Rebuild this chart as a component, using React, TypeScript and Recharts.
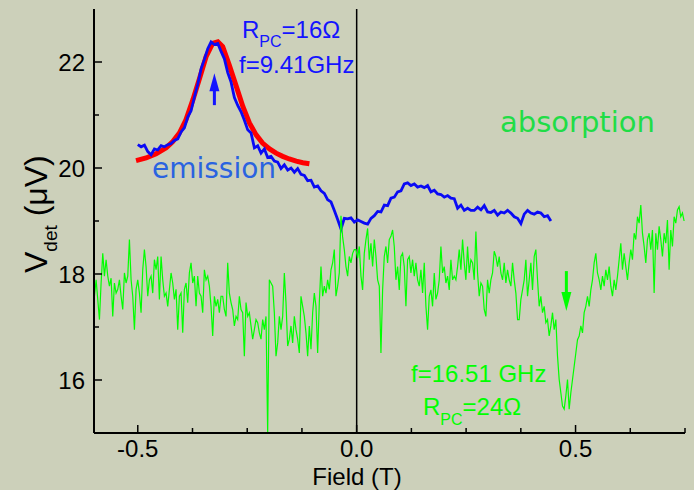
import { LineChart, Line, XAxis, YAxis, ReferenceLine, ReferenceDot } from "recharts";

const BG = "#ccd0ba";
const AXIS_FONT = "'Liberation Sans', Arial, Helvetica, sans-serif";
const HAND_FONT = "'Comic Sans MS', 'DejaVu Sans', sans-serif";

// field axis ticks (T) and detector voltage ticks (µV)
const FIELD_TICKS = [-0.5, -0.375, -0.25, -0.125, 0, 0.125, 0.25, 0.375, 0.5, 0.625, 0.75];
const VDET_TICKS = [16, 17, 18, 19, 20, 21, 22];

// 16.51 GHz trace (green), evenly spaced field sweep
const GREEN_START = -0.599;
const GREEN_STEP = 0.003805;
const GREEN_VDET = [
  17.58, 17.89, 17.52, 17.14, 17.83, 18.39, 17.96, 18.27, 17.96, 17.77,
  17.92, 17.2, 17.83, 17.64, 17.71, 17.89, 17.58, 17.33, 18.02, 17.83,
  17.96, 18.65, 17.89, 17.58, 16.95, 17.71, 17.89, 17.64, 17.27, 18.08,
  18.46, 18.14, 17.58, 17.89, 17.96, 17.64, 18.27, 18.08, 18.33, 17.52,
  18.33, 17.89, 17.58, 17.64, 17.39, 17.71, 18.02, 17.83, 17.52, 17.71,
  16.95, 17.58, 17.64, 16.89, 17.71, 17.83, 17.46, 18.02, 18.21, 17.83,
  17.96, 17.39, 17.96, 17.64, 17.58, 17.27, 18.08, 17.89, 17.96, 17.77,
  17.39, 16.83, 17.58, 17.39, 17.52, 17.27, 17.58, 17.58, 17.33, 17.2,
  18.21, 17.64, 17.46, 17.33, 17.02, 17.2, 17.14, 17.58, 17.33, 17.27,
  16.45, 17.46, 17.2, 17.27, 17.02, 16.77, 16.95, 17.14, 17.08, 16.89,
  16.77, 17.14, 16.95, 17.2, 15.0, 17.89, 17.83, 17.77, 17.27, 16.45,
  16.7, 17.2, 16.95, 17.2, 18.02, 17.46, 16.64, 16.77, 17.02, 16.7,
  17.2, 16.95, 16.77, 16.51, 17.58, 17.39, 17.2, 16.89, 16.45, 17.02,
  16.58, 17.27, 17.64, 17.39, 16.51, 17.46, 18.14, 17.58, 17.77, 17.64,
  17.89, 17.71, 18.08, 18.21, 18.46, 17.58, 17.77, 18.02, 19.1, 18.7,
  18.46, 18.14, 17.96, 18.33, 18.21, 18.39, 18.46, 18.46, 18.3,
  18.52, 17.96, 17.7, 18.39, 18.65, 18.86, 18.27, 18.58, 18.14, 18.65,
  18.33, 17.89, 17.77, 16.51, 17.7, 18.33, 18.52, 18.21, 18.65, 18.71,
  18.83, 18.52, 17.89, 18.14, 17.7, 18.33, 18.39, 18.14, 17.39, 18.27,
  18.33, 18.02, 18.27, 17.96, 18.21, 17.89, 17.77, 18.08, 17.64, 18.21,
  17.39, 16.95, 17.58, 17.7, 17.39, 18.02, 17.52, 17.64, 17.89, 18.52,
  18.02, 18.14, 17.83, 17.96, 17.7, 18.27, 17.89, 17.96, 17.89, 18.14,
  18.46, 18.08, 18.65, 18.21, 17.89, 18.52, 18.02, 18.27, 18.21, 17.89,
  18.8, 18.02, 17.58, 17.83, 17.77, 17.33, 17.2, 17.89, 17.64, 17.89,
  18.02, 18.43, 18.33, 18.14, 18.33, 18.02, 17.89, 18.21, 17.83, 18.08,
  17.89, 17.77, 18.21, 17.89, 17.64, 17.14, 17.14, 17.52, 17.7, 17.89,
  18.27, 17.58,
  17.89, 18.21, 17.7, 18.33, 18.46, 17.89, 17.39, 17.58, 17.27, 17.39,
  17.08, 17.14, 16.83, 17.02, 17.27, 16.95, 17.14, 16.45, 16.01, 15.76,
  15.51, 15.45, 15.7, 16.01, 15.45, 15.76, 16.01, 16.26, 16.51, 16.76,
  16.83, 17.02, 16.89, 17.27, 17.39, 17.58, 17.39, 17.7, 17.89, 18.21,
  18.39, 18.02, 17.89, 17.7, 17.96, 17.77, 18.08, 17.89, 18.14, 17.77,
  17.58, 17.89, 17.7, 17.96, 18.27, 18.58, 18.08, 18.39, 18.14, 17.89,
  18.21, 18.46, 18.27, 18.77, 18.65, 19.08, 18.96, 19.3, 18.77, 18.52,
  18.21, 18.65, 18.77, 18.46, 18.83, 17.64, 18.77, 18.46, 18.9, 18.65,
  18.33, 18.77, 18.58, 19.02, 18.08, 18.83, 18.52, 19.08, 18.96, 19.21,
  19.27, 19.08, 19.15, 19.0,
];

// 9.41 GHz trace (blue)
const BLUE_START = -0.5;
const BLUE_STEP = 0.00761;
const BLUE_VDET = [
  20.44, 20.4, 20.43, 20.31, 20.25, 20.36, 20.34, 20.42, 20.4, 20.44,
  20.46, 20.52, 20.55, 20.68, 20.76, 20.96, 21.08, 21.34, 21.58, 21.87,
  22.05, 22.25, 22.38, 22.33, 22.35, 22.2, 22.06, 21.8, 21.62, 21.33,
  21.18, 21.06, 20.9, 20.72, 20.66, 20.38, 20.42, 20.28, 20.36, 20.2,
  20.22, 20.13, 20.11, 19.99, 20.06, 19.96, 20.0, 19.92, 19.99, 19.88,
  19.86, 19.76, 19.77, 19.64, 19.66, 19.57, 19.52, 19.4, 19.36, 19.2,
  19.03, 18.85, 19.05, 19.04, 19.06, 18.98, 19.02,
  18.99, 18.96, 18.94, 19.05, 19.1, 19.18, 19.17, 19.3, 19.29, 19.43,
  19.45, 19.55, 19.57, 19.7, 19.72, 19.67, 19.7, 19.64, 19.66, 19.63,
  19.67, 19.55, 19.58, 19.51, 19.5, 19.45, 19.48, 19.43, 19.42, 19.24,
  19.3, 19.2, 19.24, 19.2, 19.2, 19.26, 19.21, 19.29, 19.17, 19.16,
  19.2, 19.11, 19.17, 19.15, 19.2, 19.15, 19.08, 19.05, 18.95, 19.13,
  19.2, 19.15, 19.13, 19.17, 19.15, 19.08, 19.1, 19.0,
];

// Lorentzian fit to the emission peak (red)
const FIT_FIELD = [
  -0.504, -0.481, -0.458, -0.435, -0.42, -0.405, -0.39, -0.374, -0.359, -0.344,
  -0.329, -0.317, -0.306, -0.291, -0.275, -0.26, -0.245, -0.23, -0.215, -0.199,
  -0.184, -0.169, -0.154, -0.138, -0.123, -0.108,
];
const FIT_VDET = [
  20.14, 20.19, 20.27, 20.38, 20.5, 20.66, 20.91, 21.29, 21.69, 22.1,
  22.35, 22.38, 22.29, 21.94, 21.54, 21.16, 20.85, 20.63, 20.47, 20.36,
  20.28, 20.22, 20.17, 20.13, 20.1, 20.08,
];

const greenData = GREEN_VDET.map((v, i) => ({ x: GREEN_START + i * GREEN_STEP, v }));
const blueData = BLUE_VDET.map((v, i) => ({ x: BLUE_START + i * BLUE_STEP, v }));
const fitData = FIT_FIELD.map((x, i) => ({ x, v: FIT_VDET[i] }));

const isMajorField = (v: number) => Math.abs(v * 2 - Math.round(v * 2)) < 1e-6;
const isMajorVdet = (v: number) => v % 2 === 0;

function BottomTick({ x, y, payload }: any) {
  const major = isMajorField(payload.value);
  return (
    <g>
      <line x1={x} y1={y} x2={x} y2={y - (major ? 8 : 5)} stroke="#000" strokeWidth={1.5} />
      {major && (
        <text x={x} y={y + 24} textAnchor="middle" fontSize={24} fontFamily={AXIS_FONT} fill="#000">
          {payload.value.toFixed(1)}
        </text>
      )}
    </g>
  );
}

function TopTick({ x, y, payload }: any) {
  const major = isMajorField(payload.value);
  return <line x1={x} y1={y} x2={x} y2={y + (major ? 8 : 5)} stroke="#000" strokeWidth={1.5} />;
}

function LeftTick({ x, y, payload }: any) {
  const major = isMajorVdet(payload.value);
  return (
    <g>
      <line x1={x} y1={y} x2={x + (major ? 8 : 5)} y2={y} stroke="#000" strokeWidth={1.5} />
      {major && (
        <text x={x - 9} y={y + 8.5} textAnchor="end" fontSize={24} fontFamily={AXIS_FONT} fill="#000">
          {payload.value}
        </text>
      )}
    </g>
  );
}

function RightTick({ x, y, payload }: any) {
  const major = isMajorVdet(payload.value);
  return <line x1={x} y1={y} x2={x - (major ? 8 : 5)} y2={y} stroke="#000" strokeWidth={1.5} />;
}

// arrow marking the resonance, tip at (cx, cy)
function UpArrow({ cx, cy }: any) {
  return (
    <g fill="#1414ff">
      <polygon points={`${cx},${cy} ${cx - 5},${cy + 18} ${cx + 5},${cy + 18}`} />
      <rect x={cx - 1.5} y={cy + 14} width={3} height={18} />
    </g>
  );
}

function DownArrow({ cx, cy }: any) {
  return (
    <g fill="#00ff00">
      <polygon points={`${cx},${cy} ${cx - 5},${cy - 19} ${cx + 5},${cy - 19}`} />
      <rect x={cx - 1.5} y={cy - 40} width={3} height={25} />
    </g>
  );
}

export default function App() {
  return (
    <div style={{ position: "absolute", left: 0, top: 0, width: 694, height: 490, background: BG }}>
      <LineChart width={694} height={490} data={greenData} margin={{ top: 9, right: 9, bottom: 0, left: 0 }}>
        <XAxis
          dataKey="x"
          type="number"
          domain={[-0.6, 0.75]}
          allowDataOverflow
          ticks={FIELD_TICKS}
          interval={0}
          height={57}
          tickSize={0}
          tickMargin={0}
          axisLine={{ stroke: "#000", strokeWidth: 2 }}
          tickLine={false}
          tick={(p: any) => <BottomTick {...p} />}
        />
        <XAxis
          xAxisId="top"
          orientation="top"
          type="number"
          domain={[-0.6, 0.75]}
          allowDataOverflow
          ticks={FIELD_TICKS}
          interval={0}
          height={0}
          tickSize={0}
          tickMargin={0}
          axisLine={{ stroke: "#000", strokeWidth: 2 }}
          tickLine={false}
          tick={(p: any) => <TopTick {...p} />}
        />
        <YAxis
          type="number"
          domain={[15, 23]}
          allowDataOverflow
          ticks={VDET_TICKS}
          interval={0}
          width={94}
          tickSize={0}
          tickMargin={0}
          axisLine={{ stroke: "#000", strokeWidth: 2 }}
          tickLine={false}
          tick={(p: any) => <LeftTick {...p} />}
        />
        <YAxis
          yAxisId="right"
          orientation="right"
          type="number"
          domain={[15, 23]}
          allowDataOverflow
          ticks={VDET_TICKS}
          interval={0}
          width={0}
          tickSize={0}
          tickMargin={0}
          axisLine={{ stroke: "#000", strokeWidth: 2 }}
          tickLine={false}
          tick={(p: any) => <RightTick {...p} />}
        />
        <ReferenceLine x={0} stroke="#000" strokeWidth={1.5} />
        <Line data={fitData} dataKey="v" type="linear" stroke="#ff0000" strokeWidth={5} dot={false} isAnimationActive={false} />
        <Line data={blueData} dataKey="v" type="linear" stroke="#0a0af5" strokeWidth={2.8} dot={false} isAnimationActive={false} />
        <Line data={greenData} dataKey="v" type="linear" stroke="#00ff00" strokeWidth={1.2} dot={false} isAnimationActive={false} />
        <ReferenceDot x={-0.325} y={21.79} r={0} shape={(p: any) => <UpArrow cx={p.cx} cy={p.cy} />} />
        <ReferenceDot x={0.479} y={17.3} r={0} shape={(p: any) => <DownArrow cx={p.cx} cy={p.cy} />} />
      </LineChart>
      <svg width={694} height={490} style={{ position: "absolute", left: 0, top: 0, pointerEvents: "none" }}>
        <g fontFamily={AXIS_FONT} fill="#1414ff">
          <text x={242} y={38} fontSize={24}>
            R<tspan fontSize={16} dy={9}>PC</tspan>
            <tspan fontSize={24} dy={-9}>=16Ω</tspan>
          </text>
          <text x={239} y={73} fontSize={24}>f=9.41GHz</text>
        </g>
        <g fontFamily={AXIS_FONT} fill="#00ff00">
          <text x={411} y={382} fontSize={24}>f=16.51 GHz</text>
          <text x={423} y={415} fontSize={24}>
            R<tspan fontSize={16} dy={10}>PC</tspan>
            <tspan fontSize={24} dy={-10}>=24Ω</tspan>
          </text>
        </g>
        <text x={152} y={178} fontSize={28} fontFamily={HAND_FONT} fill="#2a63e0">emission</text>
        <text x={500} y={132} fontSize={29} fontFamily={HAND_FONT} fill="#20dd46">absorption</text>
        <text x={357} y={485} fontSize={24} fontFamily={AXIS_FONT} textAnchor="middle" fill="#000">Field (T)</text>
        <text transform="translate(47,273) rotate(-90)" fontSize={32} fontFamily={AXIS_FONT} fill="#000">
          V<tspan fontSize={19} dy={10}>det</tspan>
          <tspan fontSize={32} dy={-10}> (μV)</tspan>
        </text>
      </svg>
    </div>
  );
}
